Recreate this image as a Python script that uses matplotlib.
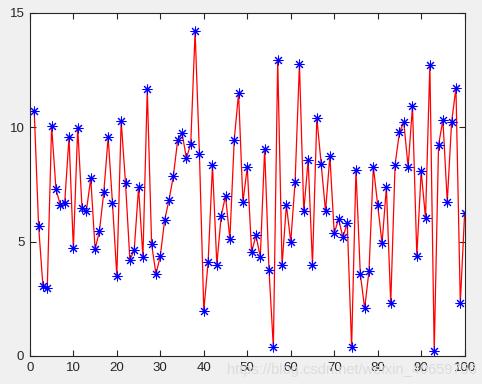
import numpy as np
import matplotlib
matplotlib.use("Agg")
import matplotlib.pyplot as plt

x = list(range(1, 101))
y = [10.70, 5.69, 3.06, 2.97, 10.05, 7.28, 6.60, 6.67, 9.55, 4.70,
     9.95, 6.45, 6.35, 7.76, 4.66, 5.46, 7.15, 9.55, 6.67, 3.49,
     10.27, 7.54, 4.19, 4.63, 7.37, 4.31, 11.65, 4.88, 3.58, 4.37,
     5.94, 6.82, 7.86, 9.44, 9.73, 8.65, 9.26, 14.18, 8.82, 1.98,
     4.11, 8.33, 3.99, 6.12, 6.99, 5.11, 9.44, 11.48, 6.73, 8.24,
     4.54, 5.27, 4.33, 9.04, 3.76, 0.38, 12.93, 3.96, 6.60, 4.98,
     7.60, 12.76, 6.32, 8.56, 3.99, 10.41, 8.39, 6.32, 8.74, 5.36,
     5.99, 5.18, 5.82, 0.38, 8.13, 3.58, 2.08, 3.71, 8.27, 6.60,
     4.92, 7.37, 2.30, 8.36, 9.77, 10.21, 8.26, 10.92, 4.37, 8.07,
     6.03, 12.73, 0.20, 9.22, 10.31, 6.73, 10.22, 11.71, 2.30, 6.26]
xticks = [0, 10, 20, 30, 40, 50, 60, 70, 80, 90, 100]
yticks = [0, 5, 10, 15]

plt.rcParams['font.family'] = ['Liberation Sans', 'DejaVu Sans']
fig = plt.figure(figsize=(4.82, 3.84), dpi=100, facecolor='#f0f0f0')
ax = fig.add_axes([0.062, 0.073, 0.902, 0.894])
ax.set_facecolor('white')
ax.plot(x, y, color='red', linewidth=0.9, marker=(8, 2, 0),
        markersize=7, markeredgecolor='blue', markerfacecolor='blue',
        markeredgewidth=0.75)
ax.set_xlim(0, 100)
ax.set_ylim(0, 15)
ax.set_xticks(xticks)
ax.set_yticks(yticks)
ax.tick_params(direction='in', length=4, width=0.8, top=True, right=True,
               labelsize=9.5, colors='#262626', pad=4)
for s in ax.spines.values():
    s.set_color('#262626')
    s.set_linewidth(0.8)
fig.text(0.99, 0.036, 'https://blog.csdn.net/weixin_40659756', ha='right',
         va='center', fontsize=10.5, color='#dcdcdc', zorder=0)
fig.savefig('out.png', dpi=100, facecolor=fig.get_facecolor())
